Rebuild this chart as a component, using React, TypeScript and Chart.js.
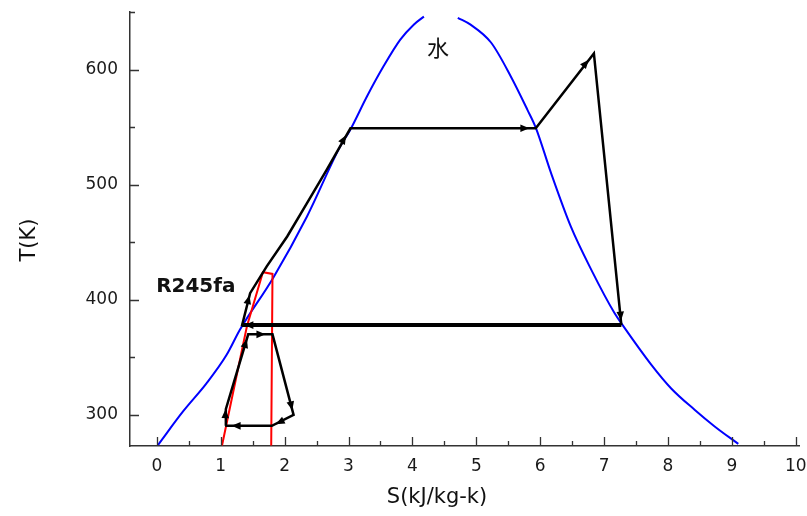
import React, { useEffect, useRef } from 'react';
import { Chart, registerables } from 'chart.js';

Chart.register(...registerables);

// Water saturation dome
const waterLiquidS = [0.02, 0.41, 0.78, 1.09, 1.30, 1.82, 2.35, 2.87, 3.03, 3.29, 3.55, 3.81, 4.02, 4.18];
const waterLiquidT = [274, 303, 327.6, 352, 374, 419, 472.4, 533.3, 548, 576.8, 603, 626, 639, 646];
const waterVaporS = [4.71, 4.91, 5.23, 5.54, 5.80, 5.93, 6.17, 6.48, 6.80, 7.16, 7.29, 7.74, 8.05, 8.42, 8.73, 9.10];
const waterVaporT = [645, 639, 623.5, 594, 565, 549.6, 510, 463.5, 426, 388.7, 378, 343.5, 323, 304.3, 290, 274.8];

// Water Rankine cycle
const rankineS = [1.33, 1.46, 1.72, 2.04, 2.35, 2.66, 3.03, 5.93, 6.84, 7.27];
const rankineT = [377, 405.8, 429, 455, 484, 513, 549, 549, 614, 378];
const condenseS = [7.27, 1.33];
const condenseT = [378, 378];

// R245fa cycle
const orcS = [1.07, 1.08, 1.43, 1.81, 2.14, 1.80, 1.07];
const orcT = [290.5, 305, 370, 370, 300, 290.5, 290.5];

// R245fa saturation (red)
const r245S = [1.02, 1.41, 1.66, 1.81, 1.79];
const r245T = [273.5, 377, 424, 422.5, 273.5];

// Arrow markers: from -> to (tip)
const arrowFromS = [1.39, 2.86, 5.66, 6.63, 7.245, 1.52, 1.57, 2.075, 1.98, 1.31, 1.07, 1.355];
const arrowFromT = [391, 533, 549, 600, 394, 378, 370, 315, 295.3, 290.5, 294, 356];
const arrowToS = [1.45, 2.96, 5.83, 6.76, 7.265, 1.37, 1.70, 2.12, 1.86, 1.17, 1.075, 1.41];
const arrowToT = [404, 543, 549, 608.5, 382, 378, 370, 304, 292, 290.5, 305, 366];

// Axis ticks
const xTickValues = [0, 1, 2, 3, 4, 5, 6, 7, 8, 9, 10];
const yTickValues = [300, 400, 500, 600];
const xMinorValues = [0.5, 1.5, 2.5, 3.5, 4.5, 5.5, 6.5, 7.5, 8.5, 9.5];
const yMinorValues = [350, 450, 550, 650];

// Axis titles
const xTitle = 'S(kJ/kg-k)';
const yTitle = 'T(K)';

// Text labels
const textLabels = ['水', 'R245fa'];
const textS = [4.40, 0.61];
const textT = [619, 411];

const toPts = (xs: number[], ys: number[]) => xs.map((x, i) => ({ x, y: ys[i] }));

export default function App() {
  const ref = useRef<HTMLCanvasElement>(null);

  useEffect(() => {
    if (!ref.current) return;

    const arrowPlugin = {
      id: 'arrows',
      afterDatasetsDraw(chart: any) {
        const { ctx, scales } = chart;
        const xs = scales.x, ys = scales.y;
        ctx.save();
        ctx.fillStyle = '#000';
        for (let i = 0; i < arrowFromS.length; i++) {
          const x0 = xs.getPixelForValue(arrowFromS[i]);
          const y0 = ys.getPixelForValue(arrowFromT[i]);
          const x1 = xs.getPixelForValue(arrowToS[i]);
          const y1 = ys.getPixelForValue(arrowToT[i]);
          const a = Math.atan2(y1 - y0, x1 - x0);
          const L = 9, W = 3.8;
          ctx.save();
          ctx.translate(x1, y1);
          ctx.rotate(a);
          ctx.beginPath();
          ctx.moveTo(0, 0);
          ctx.lineTo(-L, -W);
          ctx.lineTo(-L, W);
          ctx.closePath();
          ctx.fill();
          ctx.restore();
        }
        ctx.restore();
      },
    };

    const tickPlugin = {
      id: 'innerTicks',
      afterDraw(chart: any) {
        const { ctx, chartArea, scales } = chart;
        const xs = scales.x, ys = scales.y;
        ctx.save();
        ctx.strokeStyle = '#333';
        ctx.lineWidth = 1.3;
        ctx.beginPath();
        xTickValues.forEach((v) => {
          const px = Math.round(xs.getPixelForValue(v)) + 0.5;
          ctx.moveTo(px, chartArea.bottom);
          ctx.lineTo(px, chartArea.bottom - 9);
        });
        xMinorValues.forEach((v) => {
          const px = Math.round(xs.getPixelForValue(v)) + 0.5;
          ctx.moveTo(px, chartArea.bottom);
          ctx.lineTo(px, chartArea.bottom - 5);
        });
        yTickValues.forEach((v) => {
          const py = Math.round(ys.getPixelForValue(v)) + 0.5;
          ctx.moveTo(chartArea.left, py);
          ctx.lineTo(chartArea.left + 9, py);
        });
        yMinorValues.forEach((v) => {
          const py = Math.round(ys.getPixelForValue(v)) + 0.5;
          ctx.moveTo(chartArea.left, py);
          ctx.lineTo(chartArea.left + 5, py);
        });
        ctx.stroke();

        // axis titles
        ctx.fillStyle = '#111';
        ctx.font = '21px "DejaVu Sans"';
        ctx.textAlign = 'center';
        ctx.textBaseline = 'middle';
        ctx.fillText(xTitle, chartArea.left + 307, chartArea.bottom + 52);
        ctx.save();
        ctx.translate(chartArea.left - 100, chartArea.top + 228);
        ctx.rotate(-Math.PI / 2);
        ctx.fillText(yTitle, 0, 0);
        ctx.restore();
        ctx.restore();
      },
    };

    const textPlugin = {
      id: 'textLabels',
      afterDatasetsDraw(chart: any) {
        const { ctx, scales } = chart;
        ctx.save();
        ctx.textAlign = 'center';
        ctx.textBaseline = 'middle';
        ctx.fillStyle = '#111';
        textLabels.forEach((t, i) => {
          const px = scales.x.getPixelForValue(textS[i]);
          const py = scales.y.getPixelForValue(textT[i]);
          ctx.font = i === 0 ? '22px "Noto Sans CJK SC"' : 'bold 20px "DejaVu Sans"';
          ctx.fillText(t, px, py);
        });
        ctx.restore();
      },
    };

    const zeroPad = (s: any) => {
      s.paddingTop = 0;
      s.paddingBottom = 0;
      s.paddingLeft = 0;
      s.paddingRight = 0;
    };

    const chart = new Chart(ref.current, {
      type: 'scatter',
      data: {
        datasets: [
          {
            label: 'condense',
            data: toPts(condenseS, condenseT),
            showLine: true,
            borderColor: '#000',
            borderWidth: 4,
            pointRadius: 0,
            tension: 0,
            order: 0,
          },
          {
            label: 'rankine',
            data: toPts(rankineS, rankineT),
            showLine: true,
            borderColor: '#000',
            borderWidth: 2.5,
            pointRadius: 0,
            tension: 0,
            order: 1,
          },
          {
            label: 'orc',
            data: toPts(orcS, orcT),
            showLine: true,
            borderColor: '#000',
            borderWidth: 2.5,
            pointRadius: 0,
            tension: 0,
            order: 2,
          },
          {
            label: 'R245fa',
            data: toPts(r245S, r245T),
            showLine: true,
            borderColor: '#ff0000',
            borderWidth: 2,
            pointRadius: 0,
            tension: 0,
            order: 3,
          },
          {
            label: 'water liquid',
            data: toPts(waterLiquidS, waterLiquidT),
            showLine: true,
            borderColor: '#0000ff',
            borderWidth: 2,
            pointRadius: 0,
            cubicInterpolationMode: 'monotone',
            order: 4,
          },
          {
            label: 'water vapor',
            data: toPts(waterVaporS, waterVaporT),
            showLine: true,
            borderColor: '#0000ff',
            borderWidth: 2,
            pointRadius: 0,
            cubicInterpolationMode: 'monotone',
            order: 5,
          },
        ],
      },
      options: {
        animation: false,
        responsive: true,
        maintainAspectRatio: false,
        layout: { padding: { top: 12, right: 8, left: 0, bottom: 0 } },
        plugins: {
          legend: { display: false },
          tooltip: { enabled: false },
        },
        scales: {
          x: {
            type: 'linear',
            min: -0.42,
            max: 10.05,
            afterBuildTicks: (s: any) => {
              s.ticks = xTickValues.map((v) => ({ value: v }));
            },
            afterFit: (s: any) => {
              s.height = 70;
              zeroPad(s);
            },
            grid: { display: false, drawTicks: false },
            border: { display: true, color: '#333', width: 1.5 },
            ticks: {
              padding: 10,
              color: '#1a1a1a',
              font: { family: 'DejaVu Sans', size: 17 },
              maxRotation: 0,
              callback: (v: any) => String(v),
            },
            title: { display: false },
          },
          y: {
            type: 'linear',
            min: 273,
            max: 650,
            afterBuildTicks: (s: any) => {
              s.ticks = yTickValues.map((v) => ({ value: v }));
            },
            afterFit: (s: any) => {
              s.width = 130;
              zeroPad(s);
            },
            grid: { display: false, drawTicks: false },
            border: { display: true, color: '#333', width: 1.5 },
            ticks: {
              padding: 12,
              color: '#1a1a1a',
              font: { family: 'DejaVu Sans', size: 17 },
              callback: (v: any) => String(v),
            },
            title: { display: false },
          },
        },
      },
      plugins: [arrowPlugin, tickPlugin, textPlugin],
    } as any);

    return () => chart.destroy();
  }, []);

  return (
    <div style={{ position: 'absolute', left: 0, top: 0, width: 807, height: 516, background: '#fff' }}>
      <canvas ref={ref} />
    </div>
  );
}
